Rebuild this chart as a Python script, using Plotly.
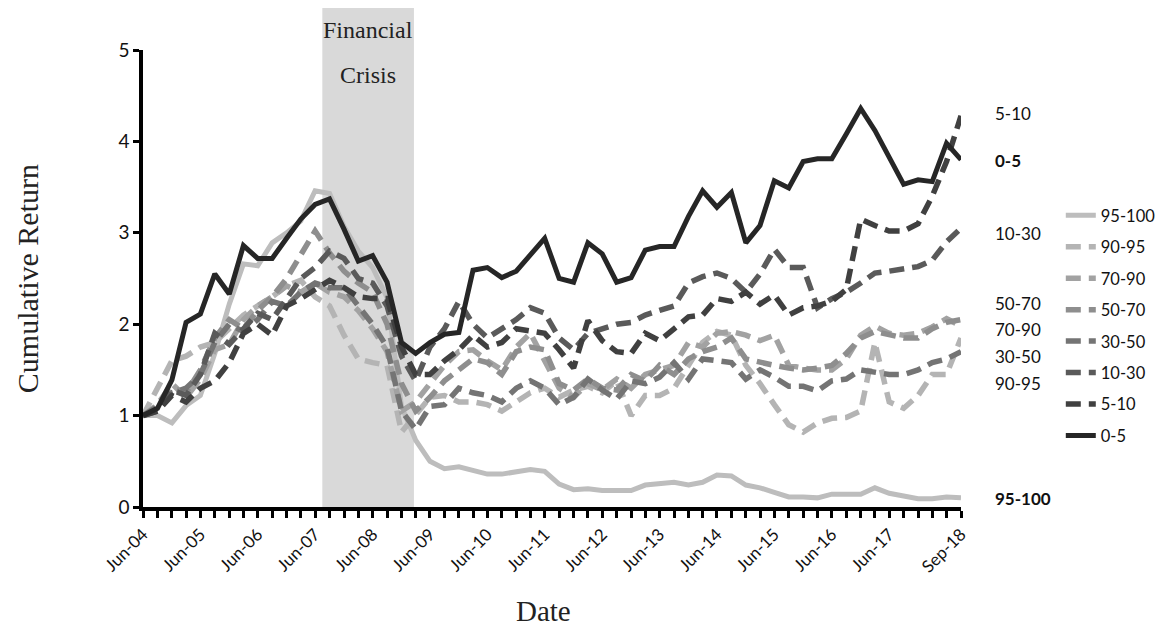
import plotly.graph_objects as go
import pandas as pd

# Quarterly dates Jun-2004 .. Sep-2018 (58 quarter ends)
quarters = [pd.Timestamp(2004 + (5 + 3 * k) // 12, (5 + 3 * k) % 12 + 1, 1) + pd.offsets.MonthEnd(0)
            for k in range(58)]

tick_labels = ["Jun-04", "Jun-05", "Jun-06", "Jun-07", "Jun-08", "Jun-09", "Jun-10",
               "Jun-11", "Jun-12", "Jun-13", "Jun-14", "Jun-15", "Jun-16", "Jun-17", "Sep-18"]

r_95_100 = [1.00, 1.00, 0.92, 1.11, 1.22, 1.68, 2.22, 2.66, 2.64, 2.89,
            3.00, 3.13, 3.46, 3.43, 3.07, 2.80, 2.62, 2.29, 1.10, 0.73,
            0.50, 0.42, 0.44, 0.40, 0.36, 0.36, 0.38, 0.41, 0.39, 0.25,
            0.19, 0.20, 0.18, 0.18, 0.18, 0.24, 0.25, 0.27, 0.24, 0.27,
            0.35, 0.34, 0.24, 0.21, 0.16, 0.11, 0.11, 0.10, 0.14, 0.14,
            0.14, 0.21, 0.15, 0.12, 0.09, 0.09, 0.11, 0.10]

r_90_95 = [1.00, 1.30, 1.60, 1.65, 1.75, 1.80, 1.95, 2.10, 2.20, 2.30,
           2.42, 2.48, 2.30, 2.20, 1.88, 1.62, 1.58, 1.55, 0.82, 1.00,
           1.20, 1.22, 1.15, 1.15, 1.12, 1.05, 1.15, 1.25, 1.30, 1.20,
           1.28, 1.32, 1.25, 1.38, 1.00, 1.22, 1.22, 1.30, 1.55, 1.80,
           1.92, 1.88, 1.55, 1.35, 1.12, 0.90, 0.82, 0.92, 0.97, 0.98,
           1.05, 1.80, 1.15, 1.08, 1.22, 1.45, 1.45, 1.85]

r_70_90 = [1.00, 1.12, 1.35, 1.20, 1.40, 1.72, 1.78, 2.05, 2.20, 2.30,
           2.42, 2.35, 2.45, 2.35, 2.30, 2.15, 1.95, 1.70, 1.05, 1.15,
           1.35, 1.55, 1.70, 1.72, 1.60, 1.50, 1.75, 1.90, 1.60, 1.30,
           1.20, 1.35, 1.28, 1.40, 1.30, 1.45, 1.50, 1.55, 1.80, 1.75,
           1.90, 1.92, 1.88, 1.82, 1.88, 1.55, 1.52, 1.50, 1.50, 1.62,
           1.88, 1.98, 1.90, 1.88, 1.90, 1.97, 2.06, 1.98]

r_50_70 = [1.00, 1.08, 1.30, 1.25, 1.50, 1.85, 2.05, 1.95, 2.15, 2.30,
           2.50, 2.75, 3.02, 2.78, 2.58, 2.45, 2.35, 2.00, 1.35, 1.05,
           1.20, 1.38, 1.50, 1.62, 1.58, 1.45, 1.70, 1.75, 1.72, 1.35,
           1.28, 1.40, 1.30, 1.28, 1.45, 1.38, 1.55, 1.45, 1.62, 1.70,
           1.75, 1.85, 1.62, 1.58, 1.55, 1.52, 1.50, 1.52, 1.55, 1.68,
           1.85, 1.92, 1.88, 1.85, 1.85, 1.95, 2.02, 2.05]

r_30_50 = [1.00, 1.10, 1.25, 1.30, 1.45, 1.80, 2.00, 1.92, 2.05, 2.25,
           2.20, 2.35, 2.45, 2.40, 2.40, 2.20, 2.00, 1.75, 1.05, 0.85,
           1.10, 1.12, 1.30, 1.25, 1.22, 1.15, 1.30, 1.38, 1.30, 1.12,
           1.20, 1.40, 1.28, 1.18, 1.38, 1.35, 1.42, 1.58, 1.40, 1.62,
           1.60, 1.58, 1.40, 1.50, 1.42, 1.32, 1.32, 1.27, 1.38, 1.40,
           1.50, 1.48, 1.45, 1.45, 1.50, 1.58, 1.62, 1.70]

r_10_30 = [1.00, 1.05, 1.28, 1.22, 1.45, 1.90, 1.78, 1.95, 2.12, 2.05,
           2.28, 2.50, 2.62, 2.80, 2.72, 2.50, 2.45, 2.20, 1.65, 1.38,
           1.75, 1.95, 2.25, 2.00, 1.85, 1.95, 2.05, 2.18, 2.12, 1.85,
           1.72, 1.90, 1.95, 2.00, 2.02, 2.10, 2.15, 2.20, 2.45, 2.52,
           2.56, 2.50, 2.35, 2.55, 2.82, 2.62, 2.62, 2.18, 2.28, 2.35,
           2.45, 2.56, 2.58, 2.60, 2.63, 2.70, 2.90, 3.05]

r_5_10 = [1.00, 1.05, 1.22, 1.15, 1.30, 1.38, 1.58, 1.90, 2.00, 1.88,
          2.20, 2.28, 2.38, 2.48, 2.40, 2.30, 2.28, 2.28, 1.75, 1.45,
          1.45, 1.60, 1.72, 1.88, 1.75, 1.80, 1.95, 1.92, 1.90, 1.72,
          1.52, 2.04, 1.82, 1.70, 1.68, 1.90, 1.82, 1.95, 2.08, 2.10,
          2.28, 2.25, 2.35, 2.22, 2.32, 2.10, 2.18, 2.20, 2.25, 2.38,
          3.15, 3.08, 3.02, 3.02, 3.10, 3.40, 3.78, 4.28]

r_0_5 = [1.00, 1.08, 1.39, 2.02, 2.11, 2.55, 2.33, 2.86, 2.72, 2.72,
         2.94, 3.15, 3.31, 3.37, 3.04, 2.69, 2.75, 2.46, 1.80, 1.68,
         1.80, 1.89, 1.91, 2.59, 2.62, 2.51, 2.58, 2.75, 2.94, 2.50,
         2.46, 2.89, 2.77, 2.46, 2.51, 2.81, 2.85, 2.85, 3.18, 3.46,
         3.28, 3.44, 2.89, 3.08, 3.57, 3.49, 3.78, 3.81, 3.81, 4.08,
         4.36, 4.12, 3.82, 3.53, 3.58, 3.56, 3.98, 3.80]

series_names = ["95-100", "90-95", "70-90", "50-70", "30-50", "10-30", "5-10", "0-5"]
series_values = [r_95_100, r_90_95, r_70_90, r_50_70, r_30_50, r_10_30, r_5_10, r_0_5]
series_colors = ["#bdbdbd", "#b4b4b4", "#a2a2a2", "#8e8e8e", "#747474", "#5a5a5a", "#404040", "#262626"]
series_dash = ["solid", "15px,8px", "15px,8px", "15px,8px", "15px,8px", "15px,8px", "15px,8px", "solid"]

# End labels shown at right of the plot (label text, y position, bold?)
end_labels = [("5-10", 4.31, False), ("0-5", 3.795, True), ("10-30", 2.99, False),
              ("50-70", 2.225, False), ("70-90", 1.94, False), ("30-50", 1.647, False),
              ("90-95", 1.35, False), ("95-100", 0.098, True)]

SANS = "Lato, 'Open Sans', sans-serif"
SERIF = "'Liberation Serif', 'DejaVu Serif', serif"

fig = go.Figure()
for name, vals, col, dash in zip(series_names, series_values, series_colors, series_dash):
    fig.add_trace(go.Scatter(
        x=quarters, y=vals, mode="lines", name=name, legendgroup=name,
        line=dict(color=col, width=5 if dash == "solid" else 5.5, dash=dash),
    ))

# Financial crisis shading
fig.add_shape(type="rect", xref="x", yref="paper", x0="2007-08-15", x1="2009-03-20",
              y0=0, y1=1.094, fillcolor="#d9d9d9", line=dict(width=0), layer="below")
fig.add_annotation(x="2008-05-31", xref="x", y=1.043, yref="paper", yanchor="middle",
                   text="Financial", showarrow=False,
                   font=dict(family=SERIF, size=24, color="#222"))
fig.add_annotation(x="2008-05-31", xref="x", y=0.945, yref="paper", yanchor="middle",
                   text="Crisis", showarrow=False,
                   font=dict(family=SERIF, size=24, color="#222"))

for txt, yv, bold in end_labels:
    fig.add_annotation(x=1.039, xref="paper", y=yv, yref="y", xanchor="left", yanchor="middle",
                       text=f"<b>{txt}</b>" if bold else txt, showarrow=False,
                       font=dict(family=SANS, size=17, color="#111"))

# Axis titles
fig.add_annotation(x=-0.141, xref="paper", y=0.5, yref="paper", xanchor="center", yanchor="middle",
                   text="Cumulative Return", textangle=-90, showarrow=False,
                   font=dict(family=SERIF, size=30, color="#222"))
fig.add_annotation(x=0.49, xref="paper", y=-0.228, yref="paper", xanchor="center", yanchor="middle",
                   text="Date", showarrow=False,
                   font=dict(family=SERIF, size=29, color="#222"))

tickvals = quarters
ticktext = []
for k in range(len(quarters)):
    if k % 4 == 0 and k // 4 < 14:
        ticktext.append(tick_labels[k // 4])
    elif k == len(quarters) - 1:
        ticktext.append(tick_labels[-1])
    else:
        ticktext.append("")

fig.update_layout(
    width=1161, height=618,
    margin=dict(l=135, r=208, t=42, b=119, autoexpand=False),
    plot_bgcolor="white", paper_bgcolor="white",
    showlegend=True,
    legend=dict(x=1.122, y=0.676, xanchor="left", yanchor="top",
                font=dict(family=SANS, size=16.5, color="#111"),
                traceorder="grouped", tracegroupgap=7, bgcolor="rgba(0,0,0,0)"),
    xaxis=dict(type="date", range=[quarters[0], quarters[-1]], tickmode="array",
               tickvals=tickvals, ticktext=ticktext, tickangle=-45,
               ticks="outside", ticklen=7, tickwidth=3, tickcolor="black",
               showline=True, linewidth=3.5, linecolor="black", showgrid=False, zeroline=False,
               tickfont=dict(family=SANS, size=17, color="#111")),
    yaxis=dict(range=[0, 5], tickvals=[0, 1, 2, 3, 4, 5], ticks="outside", ticklen=6, tickwidth=3,
               tickcolor="black", showline=True, linewidth=3.5, linecolor="black",
               showgrid=False, zeroline=False,
               tickfont=dict(family=SANS, size=19, color="#111")),
)

fig.write_html("out.html")
